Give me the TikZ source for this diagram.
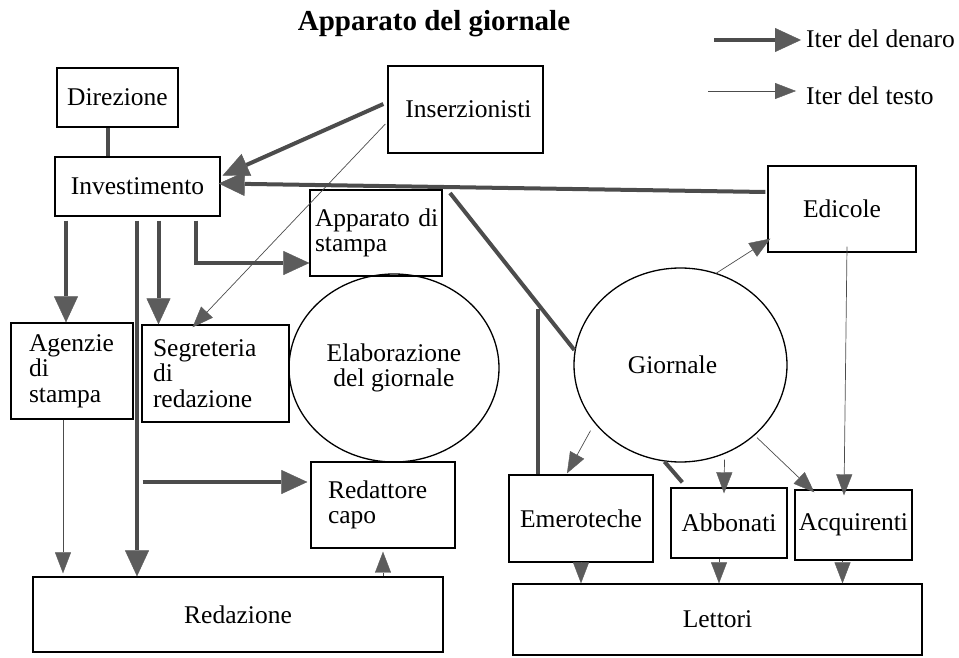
\documentclass[tikz,border=0pt]{standalone}
\usepackage{fontspec}
\setmainfont{Liberation Serif}
\usetikzlibrary{arrows.meta,shapes.geometric,calc}
\definecolor{moneycol}{gray}{0.3}
\definecolor{headcol}{gray}{0.36}
\definecolor{textcol}{gray}{0.3}
\begin{document}
\begin{tikzpicture}[x=1pt,y=-1pt,
  every node/.style={font=\fontsize{25.5}{25.5}\selectfont},
  box/.style={draw, line width=1.3pt, inner sep=0pt, align=center},
  lbox/.style={draw, line width=1.3pt, inner ysep=0pt, align=left},
  circ/.style={draw, ellipse, line width=1.3pt, inner sep=0pt, align=center},
  legend/.style={inner sep=0pt, anchor=west},
  money/.style={draw=moneycol, line width=4pt, -{Triangle[length=26pt,width=24pt,line width=0.4pt,color=headcol]}},
  moneyline/.style={draw=moneycol, line width=4pt},
  textarrow/.style={draw=textcol, line width=0.7pt, -{Triangle[length=21pt,width=16pt,line width=0.4pt,color=headcol]}},
]
\useasboundingbox (0,0) rectangle (959,658);

% title
\node[font=\bfseries\fontsize{29}{29}\selectfont, anchor=base, inner sep=0pt] (title) at (434,31) {Apparato del giornale};

% legend
\node[legend] (lg1) at (806,39) {Iter del denaro};
\node[legend] (lg2) at (806,96) {Iter del testo};
\draw[money] ($(lg1.west)+(-92,1)$) -- ($(lg1.west)+(-5,1)$);
\draw[textarrow] ($(lg2.west)+(-98,-5)$) -- ($(lg2.west)+(-10,-5)$);

% boxes
\node[box, minimum width=121, minimum height=59] (dir) at (117.5,97.5) {Direzione};
\node[box, minimum width=165, minimum height=59] (inv) at (137.5,186.5) {Investimento};
\node[box, minimum width=155, minimum height=87] (ins) at (465.5,109.5) {\hspace*{6pt}Inserzionisti};
\node[lbox, inner xsep=5pt, text width=122pt, minimum height=86] (app) at (376,233) {Apparato~di\\stampa};
\node[circ, minimum width=210, minimum height=188] (elab) at (394,368) {Elaborazione\\del giornale};
\node[lbox, inner xsep=11pt, text width=125pt, minimum height=97] (seg) at (215.5,373.5) {Segreteria\\di\\redazione};
\node[lbox, inner xsep=18pt, text width=86pt, minimum height=96] (age) at (72,371) {Agenzie\\di\\stampa};
\node[lbox, inner xsep=17pt, text width=110pt, minimum height=86] (red) at (383,505) {Redattore\\capo};
\node[box, minimum width=410, minimum height=75] (redaz) at (238,614.5) {Redazione};
\node[box, minimum width=148, minimum height=86] (edi) at (842,209) {Edicole};
\node[circ, minimum width=213, minimum height=194] (gio) at (680.5,365) {\hspace*{-16pt}Giornale};
\node[box, minimum width=144, minimum height=87] (eme) at (581,518.5) {Emeroteche};
\node[box, minimum width=116, minimum height=70] (abb) at (729,523) {Abbonati};
\node[box, minimum width=117, minimum height=70] (acq) at (853.5,525) {Acquirenti};
\node[box, minimum width=409, minimum height=71] (let) at (717.5,619.5) {Lettori};

% money connectors
\draw[moneyline] (dir.south -| 108,0) -- (inv.north -| 108,0);
\draw[money] ($(ins.west)+(-4,-5.5)$) -- ($(inv.east)+(2,-11)$);
\draw[money] ($(edi.west)+(-2,-17)$) -- ($(inv.east)+(-2,-3)$);
\draw[money] ($(inv.south -| age.north)+(-6,4)$) -- ($(age.north)+(-6,0)$);
\draw[money] ($(inv.south)+(-0.5,4)$) -- ($(inv.south |- redaz.north)+(-0.5,0)$);
\draw[money] ($(inv.south)+(21,4)$) -- ($(inv.south |- seg.north)+(21,0)$);
\draw[money] ($(inv.south)+(58.5,4)$) |- ($(app.west)+(0,30)$);
\draw[money] ($(inv.south |- red.west)+(5,-23)$) -- ($(red.west)+(-3,-23)$);
\coordinate (mj) at (450,193);
\draw[moneyline] ($(gio.west)+(1,-15)$) -- (mj);
\draw[moneyline] ($(eme.north)+(-43,0)$) -- ++(0,-165);
\draw[moneyline] ($(gio.south)+(-16,-1)$) -- ($(abb.north west)+(12,-5)$);

% text connectors
\draw[textarrow] ($(ins.west)+(-2,14.5)$) -- ($(seg.north)+(-23,3)$);
\draw[textarrow] ($(gio.north)+(35.5,6)$) -- ($(edi.south west)+(3,-14)$);
\draw[textarrow] ($(edi.south)+(5,-6)$) -- ($(edi.south |- acq.north)+(2,6)$);
\draw[textarrow] ($(gio.south)+(-90,-32)$) -- ($(eme.north)+(-14,-1)$);
\draw[textarrow] ($(gio.south)+(44,-3)$) -- ($(abb.north)+(-5,6)$);
\draw[textarrow] ($(gio.south)+(76.5,-25)$) -- ($(acq.north west)+(20,3)$);
\draw[textarrow] (eme.south) -- (eme.south |- let.north);
\draw[textarrow] ($(abb.south)+(-10,0)$) -- ($(abb.south |- let.north)+(-10,0)$);
\draw[textarrow] ($(acq.south)+(-11,0)$) -- ($(acq.south |- let.north)+(-11,0)$);
\draw[textarrow] ($(age.south)+(-9,0)$) -- ($(age.south |- redaz.north)+(-9,-3)$);
\draw[textarrow] (red.south |- redaz.north) -- ($(red.south)+(0,3)$);
\end{tikzpicture}
\end{document}
